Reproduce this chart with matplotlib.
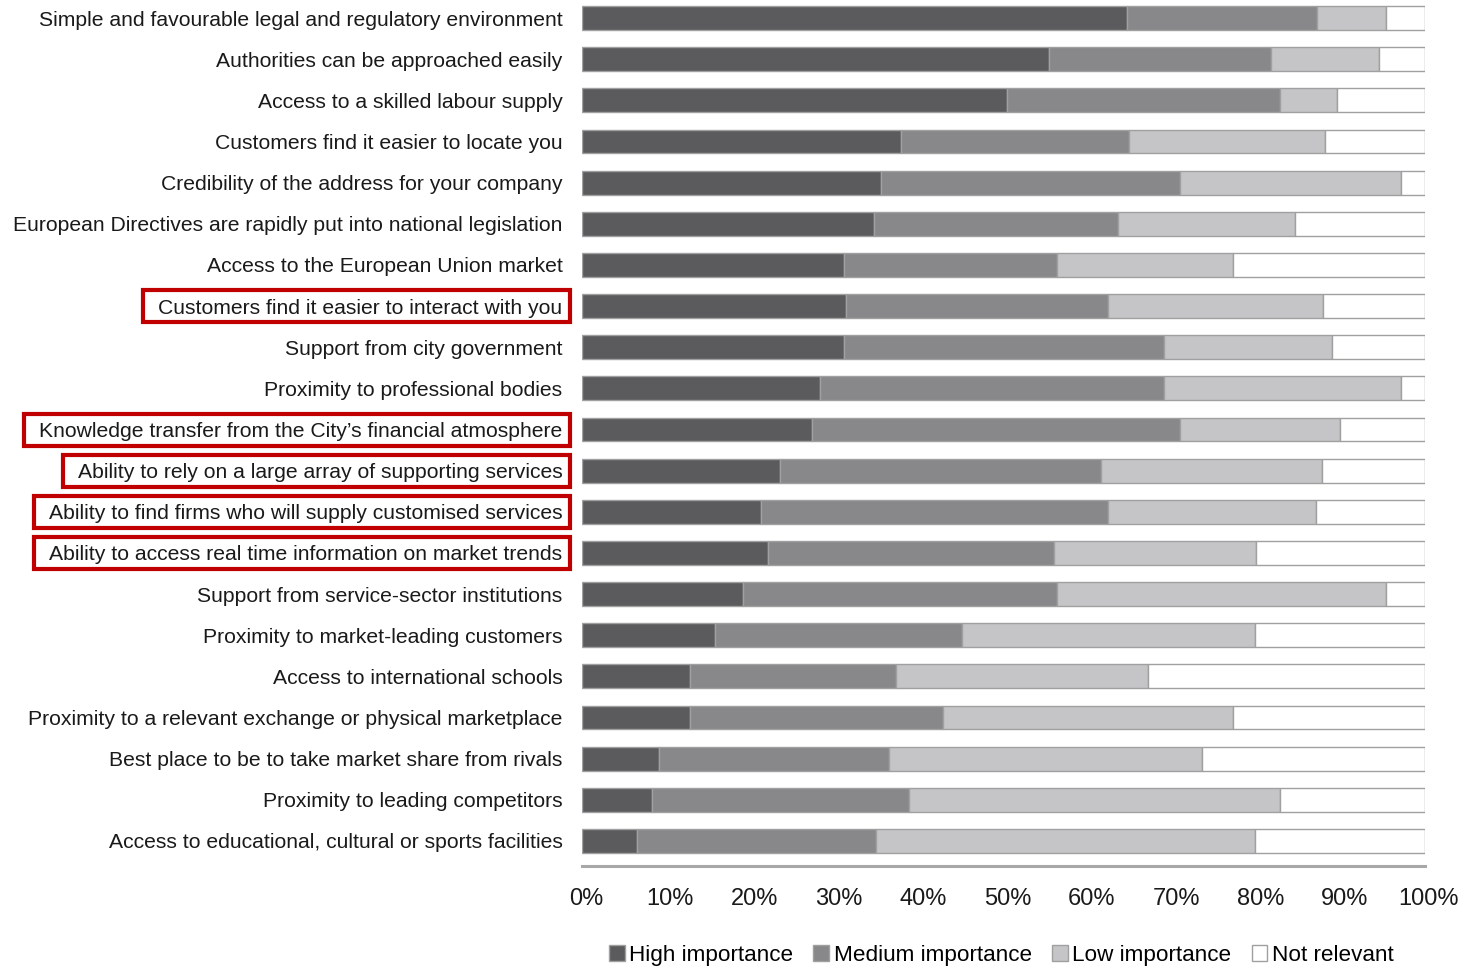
import matplotlib
matplotlib.use("Agg")
import matplotlib.pyplot as plt
import matplotlib.transforms as mtransforms
from matplotlib.patches import Rectangle
import numpy as np

plt.rcParams['font.family'] = ['Liberation Sans', 'DejaVu Sans']

categories = [
    "Simple and favourable legal and regulatory environment",
    "Authorities can be approached easily",
    "Access to a skilled labour supply",
    "Customers find it easier to locate you",
    "Credibility of the address for your company",
    "European Directives are rapidly put into national legislation",
    "Access to the European Union market",
    "Customers find it easier to interact with you",
    "Support from city government",
    "Proximity to professional bodies",
    "Knowledge transfer from the City\u2019s financial atmosphere",
    "Ability to rely on a large array of supporting services",
    "Ability to find firms who will supply customised services",
    "Ability to access real time information on market trends",
    "Support from service-sector institutions",
    "Proximity to market-leading customers",
    "Access to international schools",
    "Proximity to a relevant exchange or physical marketplace",
    "Best place to be to take market share from rivals",
    "Proximity to leading competitors",
    "Access to educational, cultural or sports facilities",
]

# shares in %
high = [64.6, 55.4, 50.4, 37.8, 35.5, 34.6, 31.1, 31.3, 31.1, 28.2, 27.3,
        23.5, 21.2, 22.1, 19.1, 15.8, 12.8, 12.8, 9.1, 8.3, 6.5]
medium = [22.6, 26.3, 32.4, 27.1, 35.4, 29.0, 25.2, 31.1, 37.9, 40.8, 43.6,
          38.1, 41.2, 33.9, 37.2, 29.3, 24.4, 30.0, 27.3, 30.5, 28.4]
low = [8.2, 12.8, 6.8, 23.2, 26.3, 21.0, 20.9, 25.5, 20.0, 28.2, 19.0,
       26.2, 24.7, 24.0, 39.1, 34.7, 29.9, 34.4, 37.1, 44.0, 44.9]
not_relevant = [100 - h - m - l for h, m, l in zip(high, medium, low)]

highlighted = [
    "Customers find it easier to interact with you",
    "Knowledge transfer from the City\u2019s financial atmosphere",
    "Ability to rely on a large array of supporting services",
    "Ability to find firms who will supply customised services",
    "Ability to access real time information on market trends",
]

series = [("High importance", high, "#5b5b5d"),
          ("Medium importance", medium, "#88888b"),
          ("Low importance", low, "#c5c5c7"),
          ("Not relevant", not_relevant, "#ffffff")]

fig = plt.figure(figsize=(14.66, 9.66), dpi=100)
ax = fig.add_axes([0.397, 0.1035, 0.575, 0.8965])

y = np.arange(len(categories))
left = np.zeros(len(categories))
for name, vals, color in series:
    ax.barh(y, vals, left=left, height=0.58, color=color, edgecolor="#a0a0a0",
            linewidth=1.0, label=name)
    left += np.array(vals)

ax.set_ylim(20.61, -0.44)
ax.set_xlim(0, 100)
ax.set_yticks(y)
ax.set_yticklabels(categories, fontsize=15.2, color="#1a1a1a")
ax.set_xticks(np.arange(0, 101, 10))
ax.set_xticklabels(["%d%%" % v for v in range(0, 101, 10)], fontsize=17, color="#1a1a1a")
ax.tick_params(axis="y", length=0, pad=14)
ax.tick_params(axis="x", length=0, pad=16)

# x labels sit a few pixels right of the gridpoints in the original
shift = mtransforms.ScaledTranslation(4 / 100, 0, fig.dpi_scale_trans)
for lbl in ax.get_xticklabels():
    lbl.set_transform(lbl.get_transform() + shift)

for s in ["top", "right", "left"]:
    ax.spines[s].set_visible(False)
ax.spines["bottom"].set_color("#a8a8a8")
ax.spines["bottom"].set_linewidth(2.2)

fig.legend(loc="center", bbox_to_anchor=(0.683, 0.011), ncol=4, frameon=False,
           fontsize=16.2, handlelength=0.7, handleheight=0.7, handletextpad=0.2,
           columnspacing=0.9)

# red frames round the highlighted labels
fig.canvas.draw()
W, H = fig.bbox.width, fig.bbox.height
for lbl, yy in zip(ax.get_yticklabels(), y):
    if lbl.get_text() not in highlighted:
        continue
    bb = lbl.get_window_extent()
    yc = ax.transData.transform((0, yy))[1]
    x0, x1 = bb.x0 - 15, bb.x1 + 7
    y0, y1 = yc - 16, yc + 16
    fig.patches.append(Rectangle((x0 / W, y0 / H), (x1 - x0) / W, (y1 - y0) / H,
                                 transform=fig.transFigure, fill=False,
                                 edgecolor="#c00000", linewidth=3))

fig.savefig("out.png", dpi=100)
